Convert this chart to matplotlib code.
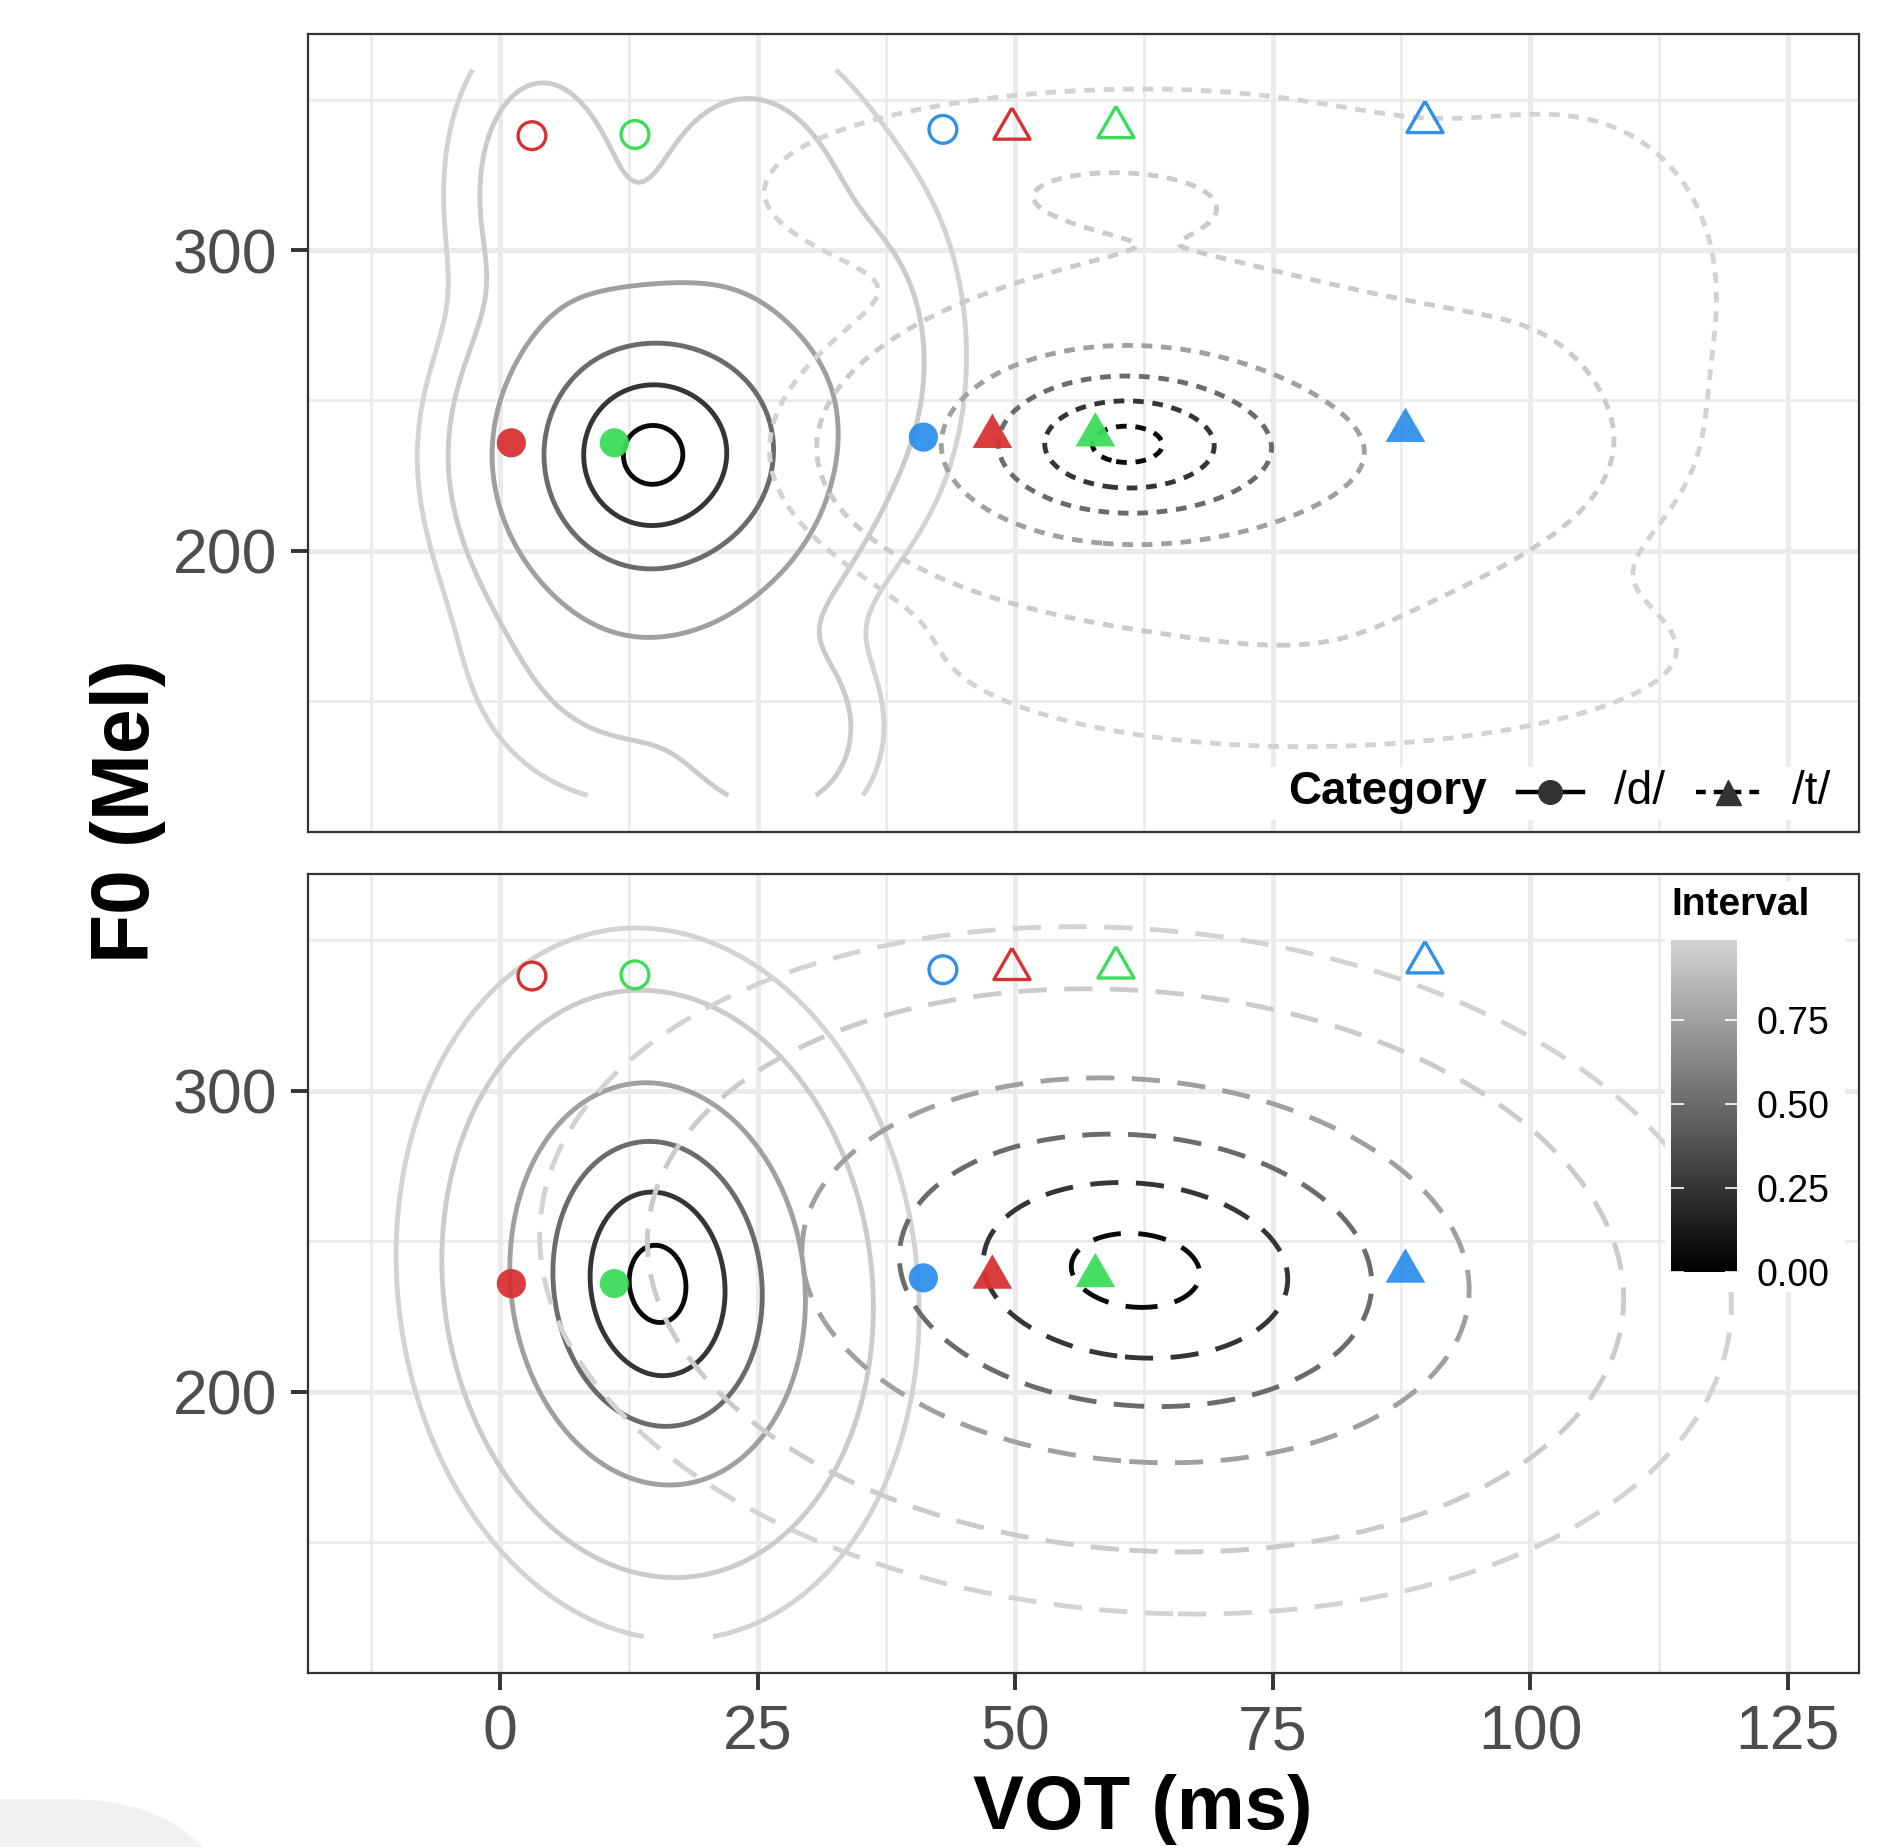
import numpy as np
import matplotlib.pyplot as plt
from matplotlib.colors import LinearSegmentedColormap, Normalize
from matplotlib.patches import Rectangle, FancyBboxPatch
from matplotlib.colorbar import ColorbarBase

plt.rcParams['font.family'] = ['Liberation Sans', 'DejaVu Sans']

# ------------------------------
# Daten
# ------------------------------
# HDR-Intervalle der Konturen
intervals = [0.05, 0.25, 0.5, 0.75, 0.95, 0.99]

# untere Grafik: ideale Normalverteilungen (vot-Mittel, f0-Mittel, vot-sd, f0-sd, Korrelation)
ideal_d = [15.3, 235.8, 8.65, 40.3, -0.08]
ideal_t = [61.7, 240.3, 19.5, 38.5, -0.10]

# obere Grafik: empirische Dichte, angenaehert als Mischung
emp_d_w = [0.73, 0.07, 0.04, 0.05, 0.03, 0.05, 0.03]
emp_d_mx = [14.5, 26.0, 4.0, 24.0, 37.0, 13.0, 27.0]
emp_d_my = [232.0, 237.0, 320.0, 318.0, 265.0, 165.0, 140.0]
emp_d_sx = [7.6, 5.5, 5.0, 7.0, 5.0, 9.0, 5.0]
emp_d_sy = [27.0, 30.0, 30.0, 30.0, 35.0, 28.0, 18.0]

emp_t_w = [0.62, 0.30, 0.04, 0.015, 0.01, 0.015]
emp_t_mx = [60.0, 70.0, 75.0, 55.0, 105.0, 80.0]
emp_t_my = [236.0, 232.0, 250.0, 320.0, 290.0, 165.0]
emp_t_sx = [9.0, 14.0, 20.0, 20.0, 10.0, 25.0]
emp_t_sy = [17.0, 19.0, 55.0, 20.0, 40.0, 20.0]

# Punkte: rot, gruen, blau
point_colors = ['#D73232', '#3CDC5A', '#2F90EA']
vot_d_filled = [1.1, 11.1, 41.1]
f0_d_filled = [235.9, 235.9, 237.8]
vot_t_filled = [47.8, 57.8, 87.9]
f0_t_filled = [238.0, 238.5, 240.0]
vot_d_open = [3.1, 13.1, 43.0]
f0_d_open = [338.1, 338.5, 340.2]
vot_t_open = [49.7, 59.8, 89.8]
f0_t_open = [340.4, 340.9, 342.6]

# ------------------------------
# Hilfsfunktionen
# ------------------------------
gx = np.linspace(-11.8, 125.0, 320)
gy = np.linspace(118.6, 360.0, 320)
GX, GY = np.meshgrid(gx, gy)


def gauss2(mx, my, sx, sy, rho=0.0):
    zx = (GX - mx) / sx
    zy = (GY - my) / sy
    q = (zx ** 2 - 2 * rho * zx * zy + zy ** 2) / (1 - rho ** 2)
    return np.exp(-0.5 * q) / (2 * np.pi * sx * sy * np.sqrt(1 - rho ** 2))


def mixture(w, mx, my, sx, sy):
    z = np.zeros_like(GX)
    for wi, a, b, c, d in zip(w, mx, my, sx, sy):
        z += wi * gauss2(a, b, c, d)
    return z


def hdr_levels(z, probs):
    v = np.sort(z.ravel())[::-1]
    cum = np.cumsum(v) / v.sum()
    return [v[np.searchsorted(cum, p)] for p in probs]


cmap = LinearSegmentedColormap.from_list('interval', ['#000000', '#D3D3D3'])
norm = Normalize(0, 0.99)

LW = 3.5
DASH_TOP = (0, (2.2, 1.8))
DASH_BOT = (0, (5.8, 3.6))


def draw_contours(ax, z, dash):
    thr = hdr_levels(z, intervals)
    order = np.argsort(thr)
    lev = [thr[i] for i in order]
    cols = [cmap(norm(intervals[i])) for i in order]
    cs = ax.contour(GX, GY, z, levels=lev, colors=cols, linewidths=LW, zorder=2)
    if dash is not None:
        cs.set_linestyle(dash)
    return cs


tri = [(0, 1), (0.866, -0.5), (-0.866, -0.5), (0, 1)]


def draw_points(ax):
    for i, c in enumerate(point_colors):
        ax.scatter(vot_d_filled[i], f0_d_filled[i], s=21 ** 2, color=c, alpha=0.95,
                   edgecolors='none', zorder=4)
        ax.scatter(vot_t_filled[i], f0_t_filled[i], s=33 ** 2, color=c, alpha=0.95,
                   marker=tri, edgecolors='none', zorder=4)
        ax.scatter(vot_d_open[i], f0_d_open[i], s=20 ** 2, facecolors='none',
                   edgecolors=c, linewidths=2.4, zorder=4)
        ax.scatter(vot_t_open[i], f0_t_open[i], s=30 ** 2, facecolors='none',
                   edgecolors=c, linewidths=2.4, marker=tri, zorder=4)


def style_axes(ax, xlabels=True):
    ax.set_xlim(-18.69, 131.9)
    ax.set_ylim(106.5, 372.0)
    ax.set_xticks([0, 25, 50, 75, 100, 125])
    ax.set_xticks([-12.5, 12.5, 37.5, 62.5, 87.5, 112.5], minor=True)
    ax.set_yticks([200, 300])
    ax.set_yticks([150, 250, 350], minor=True)
    ax.grid(True, which='major', color='#EBEBEB', linewidth=3.6)
    ax.grid(True, which='minor', color='#EBEBEB', linewidth=2.0)
    ax.set_axisbelow(True)
    for s in ax.spines.values():
        s.set_color('#333333')
        s.set_linewidth(1.6)
    ax.tick_params(which='major', length=12, width=2.8, color='#333333',
                   labelsize=45, labelcolor='#4D4D4D', pad=10)
    ax.tick_params(which='minor', length=0)
    if not xlabels:
        ax.tick_params(axis='x', which='major', length=0, labelbottom=False)


# ------------------------------
# Grafik
# ------------------------------
fig = plt.figure(figsize=(18.9, 18.47), dpi=100)
ax1 = fig.add_axes([0.1627, 0.5497, 0.8207, 0.4320])
ax2 = fig.add_axes([0.1627, 0.0942, 0.8207, 0.4326])

# oben: empirische Verteilungen
z_d_emp = mixture(emp_d_w, emp_d_mx, emp_d_my, emp_d_sx, emp_d_sy)
z_t_emp = mixture(emp_t_w, emp_t_mx, emp_t_my, emp_t_sx, emp_t_sy)
draw_contours(ax1, z_d_emp, None)
draw_contours(ax1, z_t_emp, DASH_TOP)
draw_points(ax1)
style_axes(ax1, xlabels=False)

# unten: ideale Verteilungen
z_d_ideal = gauss2(*ideal_d)
z_t_ideal = gauss2(*ideal_t)
draw_contours(ax2, z_d_ideal, None)
draw_contours(ax2, z_t_ideal, DASH_BOT)
draw_points(ax2)
style_axes(ax2)

# Legende Category (oben rechts unten im Panel)
ax1.add_patch(Rectangle((0.614, 0.0147), 0.377, 0.0668, transform=ax1.transAxes,
                        facecolor='white', edgecolor='none', zorder=5))
ax1.text(0.6325, 0.0501, 'Category', transform=ax1.transAxes, fontsize=33,
         fontweight='bold', va='center', ha='left', zorder=6)
kx = [(1518 - 307.4) / 1551.3, (1583 - 307.4) / 1551.3]
ax1.plot(kx, [0.0501, 0.0501], transform=ax1.transAxes, color='black', lw=3.2,
         clip_on=False, zorder=6)
ax1.plot([sum(kx) / 2], [0.0501], transform=ax1.transAxes, marker='o', ms=17,
         color='#333333', clip_on=False, zorder=7)
ax1.text((1614 - 307.4) / 1551.3, 0.0501, '/d/', transform=ax1.transAxes, fontsize=33,
         va='center', ha='left', zorder=6)
kx2 = [(1696 - 307.4) / 1551.3, (1761 - 307.4) / 1551.3]
ax1.plot(kx2, [0.0501, 0.0501], transform=ax1.transAxes, color='black', lw=3.2,
         ls=(0, (2.2, 1.8)), clip_on=False, zorder=6)
ax1.plot([sum(kx2) / 2], [0.0501], transform=ax1.transAxes, marker='^', ms=18,
         color='#333333', clip_on=False, zorder=7)
ax1.text((1792 - 307.4) / 1551.3, 0.0501, '/t/', transform=ax1.transAxes, fontsize=33,
         va='center', ha='left', zorder=6)

# Legende Interval (Farbskala)
ax2.add_patch(Rectangle((0.881, 0.3005), 0.0952, 0.222, transform=fig.transFigure,
                        facecolor='white', edgecolor='none', zorder=5, clip_on=False))
cax = fig.add_axes([0.8840, 0.3115, 0.0349, 0.1796])
cax.set_zorder(10)
cb = ColorbarBase(cax, cmap=cmap, norm=norm, ticks=[0, 0.25, 0.5, 0.75])
cb.outline.set_visible(False)
cb.ax.set_yticklabels(['0.00', '0.25', '0.50', '0.75'])
cax.yaxis.set_ticks_position('both')
cax.tick_params(axis='y', direction='in', length=9, width=1.2, color='white',
                labelsize=27, labelcolor='black', pad=14, right=True, left=True,
                labelleft=False, labelright=True)
fig.text(1671.7 / 1890, 1 - 915 / 1847, 'Interval', fontsize=28, fontweight='bold',
         ha='left', va='baseline')

# Achsentitel
fig.text(1143 / 1890, 1 - 1829 / 1847, 'VOT (ms)', fontsize=55, fontweight='bold',
         ha='center', va='baseline')
fig.text(128.4 / 1890, 1 - 811 / 1847, 'F0 (Mel)', fontsize=58, fontweight='bold',
         ha='center', va='center', rotation=90)

# grauer Rest unten links (Bildschirmausschnitt)
fig.add_artist(FancyBboxPatch((-400, -400), 642.5, 448,
                              boxstyle='round,pad=0,rounding_size=176',
                              transform=None, facecolor='#F1F1F1', edgecolor='none'))

fig.savefig('out.png', dpi=100)
